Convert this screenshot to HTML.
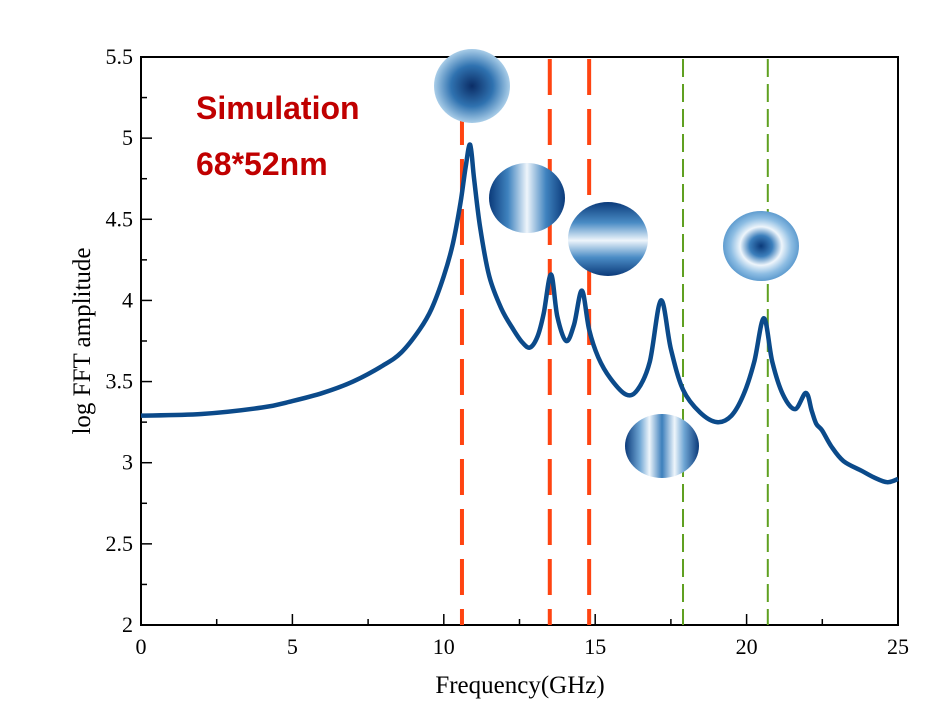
<!DOCTYPE html>
<html><head><meta charset="utf-8"><style>
body{margin:0;background:#fff;}
svg{display:block;font-family:"Liberation Serif",serif;}
</style></head><body>
<svg id="chart" width="945" height="709" viewBox="0 0 945 709">
<defs>
<radialGradient id="g1"><stop offset="0" stop-color="#0b2d66"/><stop offset="0.55" stop-color="#2f72b0"/><stop offset="1" stop-color="#a9cde8"/></radialGradient>
<linearGradient id="g2" x1="0" x2="1" y1="0" y2="0"><stop offset="0" stop-color="#0b3a7a"/><stop offset="0.25" stop-color="#3f83bf"/><stop offset="0.5" stop-color="#eef5fb"/><stop offset="0.75" stop-color="#3f83bf"/><stop offset="1" stop-color="#0b3a7a"/></linearGradient>
<linearGradient id="g3" x1="0" x2="0" y1="0" y2="1"><stop offset="0" stop-color="#0b3a7a"/><stop offset="0.28" stop-color="#4a8cc5"/><stop offset="0.52" stop-color="#eef5fb"/><stop offset="0.75" stop-color="#4a8cc5"/><stop offset="1" stop-color="#0b3a7a"/></linearGradient>
<linearGradient id="g4" x1="0" x2="1" y1="0" y2="0"><stop offset="0" stop-color="#0b3a7a"/><stop offset="0.2" stop-color="#6fa6d4"/><stop offset="0.33" stop-color="#eef5fb"/><stop offset="0.5" stop-color="#3c7fbc"/><stop offset="0.67" stop-color="#eef5fb"/><stop offset="0.8" stop-color="#6fa6d4"/><stop offset="1" stop-color="#0b3a7a"/></linearGradient>
<radialGradient id="g5"><stop offset="0" stop-color="#0b3a7a"/><stop offset="0.3" stop-color="#3c7fbc"/><stop offset="0.55" stop-color="#eef5fb"/><stop offset="0.8" stop-color="#8dbde3"/><stop offset="1" stop-color="#5f9ccf"/></radialGradient>
</defs>
<g id="axes"></g>
<g id="refs"></g>
<path id="curve" fill="none" stroke="#0b4a8a" stroke-width="4.5" stroke-linejoin="round"/>
<g id="modes">
<ellipse cx="472" cy="86" rx="38" ry="37" fill="url(#g1)"/>
<ellipse cx="527" cy="198" rx="38" ry="35" fill="url(#g2)"/>
<ellipse cx="608" cy="239" rx="40" ry="37" fill="url(#g3)"/>
<ellipse cx="662" cy="446" rx="37" ry="32" fill="url(#g4)"/>
<ellipse cx="761" cy="246" rx="38" ry="35" fill="url(#g5)"/>
</g>
<text x="196" y="119" font-family="Liberation Sans,sans-serif" font-weight="bold" font-size="32" fill="#c00000">Simulation</text>
<text x="196" y="175" font-family="Liberation Sans,sans-serif" font-weight="bold" font-size="32" fill="#c00000">68*52nm</text>
<text x="520" y="693" font-size="25" text-anchor="middle">Frequency(GHz)</text>
<text transform="translate(90,341) rotate(-90)" font-size="25" text-anchor="middle">log FFT amplitude</text>
</svg>
<script>
const freqs=[0,2,4,5,6,7,8,8.6,9.2,9.6,10,10.3,10.55,10.72,10.87,11.0,11.2,11.5,11.9,12.3,12.6,12.85,13.1,13.3,13.54,13.75,14.04,14.3,14.56,14.8,15.1,15.5,16.02,16.4,16.8,17.17,17.5,17.9,18.46,19.02,19.5,19.9,20.25,20.57,20.85,21.2,21.6,21.96,22.15,22.3,22.49,22.8,23.2,23.8,24.2,24.64,25];
const amps=[3.29,3.30,3.34,3.38,3.43,3.50,3.60,3.68,3.82,3.95,4.15,4.35,4.6,4.82,4.96,4.75,4.45,4.15,3.95,3.82,3.74,3.71,3.78,3.92,4.16,3.9,3.75,3.85,4.06,3.82,3.65,3.52,3.42,3.45,3.62,4.0,3.7,3.45,3.31,3.25,3.29,3.42,3.62,3.89,3.62,3.42,3.33,3.43,3.32,3.24,3.2,3.1,3.01,2.95,2.91,2.88,2.9];
const xTicks=[0,5,10,15,20,25];
const yTicks=[2,2.5,3,3.5,4,4.5,5,5.5];
const redLines=[10.6,13.5,14.8];
const greenLines=[17.9,20.7];
const X0=141,X1=898,Y0=625,Y1=57;
const sx=v=>X0+(v-0)/25*(X1-X0);
const sy=v=>Y0-(v-2)/3.5*(Y0-Y1);
const NS='http://www.w3.org/2000/svg';
function mk(tag,attrs,parent){const e=document.createElementNS(NS,tag);for(const k in attrs)e.setAttribute(k,attrs[k]);parent.appendChild(e);return e;}
const ax=document.getElementById('axes');
const frame=mk('rect',{x:X0,y:Y1,width:X1-X0,height:Y0-Y1,fill:'none',stroke:'#000','stroke-width':2},ax);


for(let v=0;v<=25;v+=2.5){const major=v%5===0;const t=mk('line',{x1:sx(v),x2:sx(v),y1:Y0,y2:Y0-(major?11:6),stroke:'#000','stroke-width':1.5},ax);

}
xTicks.forEach(v=>{const t=mk('text',{x:sx(v),y:Y0+29,'font-size':22,'text-anchor':'middle'},ax);t.textContent=v;

});
for(let v=2;v<=5.5;v+=0.25){const major=Math.abs(v*2-Math.round(v*2))<1e-6;const t=mk('line',{x1:X0,x2:X0+(major?11:6),y1:sy(v),y2:sy(v),stroke:'#000','stroke-width':1.5},ax);

}
yTicks.forEach(v=>{const t=mk('text',{x:X0-8,y:sy(v)+7,'font-size':22,'text-anchor':'end'},ax);t.textContent=v;

});
const rf=document.getElementById('refs');
redLines.forEach(v=>{const l=mk('line',{x1:sx(v),x2:sx(v),y1:Y1+2,y2:Y0,stroke:'#ff4411','stroke-width':4,'stroke-dasharray':'36 14'},rf);

});
greenLines.forEach(v=>{const l=mk('line',{x1:sx(v),x2:sx(v),y1:Y1+2,y2:Y0,stroke:'#5fa020','stroke-width':2,'stroke-dasharray':'18 7'},rf);

});
const P=freqs.map((f,i)=>[sx(f),sy(amps[i])]);
let d='M'+P[0][0]+','+P[0][1];
for(let i=0;i<P.length-1;i++){const p0=P[Math.max(0,i-1)],p1=P[i],p2=P[i+1],p3=P[Math.min(P.length-1,i+2)];
const c1=[p1[0]+(p2[0]-p0[0])/6,p1[1]+(p2[1]-p0[1])/6],c2=[p2[0]-(p3[0]-p1[0])/6,p2[1]-(p3[1]-p1[1])/6];
d+=` C${c1[0]},${c1[1]} ${c2[0]},${c2[1]} ${p2[0]},${p2[1]}`;}
document.getElementById('curve').setAttribute('d',d);
</script>
</body></html>
